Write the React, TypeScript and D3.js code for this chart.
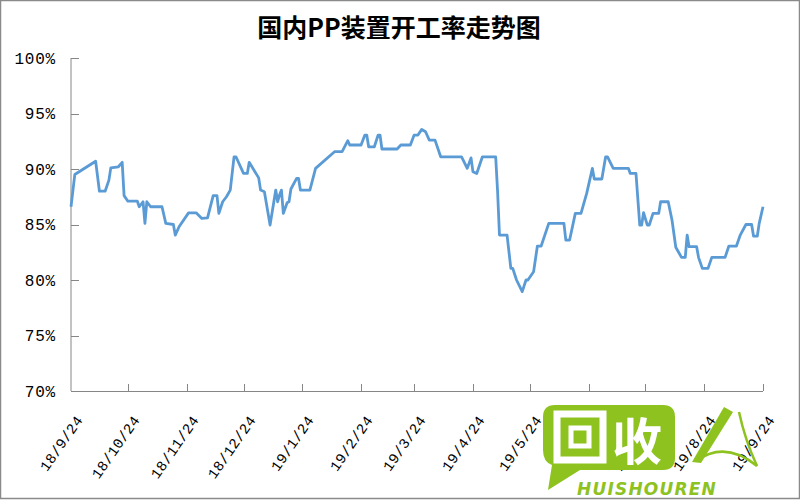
import React from "react";
import * as d3 from "d3";

const title = "国内PP装置开工率走势图";

const dates: string[] = [
  "2018-09-24", "2018-09-26", "2018-10-07", "2018-10-09", "2018-10-12", "2018-10-14", "2018-10-15", "2018-10-19",
  "2018-10-21", "2018-10-22", "2018-10-24", "2018-10-29", "2018-10-30", "2018-11-01", "2018-11-02", "2018-11-03",
  "2018-11-05", "2018-11-11", "2018-11-13", "2018-11-17", "2018-11-18", "2018-11-20", "2018-11-25", "2018-11-29",
  "2018-12-02", "2018-12-05", "2018-12-08", "2018-12-10", "2018-12-11", "2018-12-13", "2018-12-15", "2018-12-17",
  "2018-12-19", "2018-12-20", "2018-12-24", "2018-12-26", "2018-12-27", "2019-01-01", "2019-01-02", "2019-01-04",
  "2019-01-07", "2019-01-10", "2019-01-11", "2019-01-12", "2019-01-13", "2019-01-14", "2019-01-16", "2019-01-17",
  "2019-01-18", "2019-01-21", "2019-01-22", "2019-01-23", "2019-01-28", "2019-01-31", "2019-02-10", "2019-02-14",
  "2019-02-17", "2019-02-18", "2019-02-24", "2019-02-26", "2019-02-27", "2019-02-28", "2019-03-03", "2019-03-05",
  "2019-03-06", "2019-03-07", "2019-03-15", "2019-03-17", "2019-03-22", "2019-03-24", "2019-03-26", "2019-03-28",
  "2019-03-30", "2019-04-01", "2019-04-04", "2019-04-07", "2019-04-18", "2019-04-21", "2019-04-23", "2019-04-24",
  "2019-04-26", "2019-04-29", "2019-05-06", "2019-05-07", "2019-05-08", "2019-05-12", "2019-05-14", "2019-05-15",
  "2019-05-17", "2019-05-20", "2019-05-22", "2019-05-23", "2019-05-26", "2019-05-28", "2019-05-30", "2019-06-03",
  "2019-06-11", "2019-06-12", "2019-06-14", "2019-06-17", "2019-06-20", "2019-06-23", "2019-06-26", "2019-06-27",
  "2019-07-01", "2019-07-03", "2019-07-04", "2019-07-07", "2019-07-15", "2019-07-16", "2019-07-19", "2019-07-21",
  "2019-07-22", "2019-07-23", "2019-07-25", "2019-07-26", "2019-07-28", "2019-07-31", "2019-08-01", "2019-08-05",
  "2019-08-07", "2019-08-09", "2019-08-12", "2019-08-14", "2019-08-15", "2019-08-16", "2019-08-20", "2019-08-21",
  "2019-08-23", "2019-08-26", "2019-08-28", "2019-09-04", "2019-09-06", "2019-09-10", "2019-09-12", "2019-09-15",
  "2019-09-18", "2019-09-19", "2019-09-21", "2019-09-22", "2019-09-24",
];

const rates: number[] = [
  86.6, 89.5, 90.7, 88.0, 88.0, 89.0, 90.1, 90.2,
  90.6, 87.6, 87.1, 87.1, 86.6, 87.05, 85.1, 87.05,
  86.6, 86.6, 85.1, 85.0, 84.05, 84.8, 86.05, 86.05,
  85.55, 85.6, 87.6, 87.6, 86.0, 87.05, 87.5, 88.1,
  91.1, 91.1, 89.6, 89.6, 90.6, 89.2, 88.1, 87.95,
  84.95, 88.1, 87.05, 87.66, 88.1, 86.0, 86.96, 87.05,
  88.2, 89.16, 89.16, 88.1, 88.1, 90.06, 91.56, 91.56,
  92.55, 92.16, 92.16, 93.06, 93.06, 92.0, 92.0, 93.06,
  93.06, 91.8, 91.8, 92.16, 92.16, 93.06, 93.06, 93.57,
  93.36, 92.6, 92.6, 91.1, 91.1, 90.06, 91.0, 89.76,
  89.6, 91.1, 91.1, 88.0, 84.05, 84.05, 81.05, 81.05,
  80.0, 78.95, 80.0, 80.0, 80.75, 83.06, 83.06, 85.1,
  85.1, 83.6, 83.6, 86.0, 86.0, 87.8, 90.06, 89.1,
  89.1, 91.1, 91.1, 90.06, 90.06, 89.6, 89.6, 84.95,
  84.95, 86.06, 84.95, 84.95, 86.0, 86.0, 87.05, 87.05,
  85.4, 82.95, 82.04, 82.04, 84.05, 83.0, 83.0, 82.04,
  81.05, 81.05, 82.04, 82.04, 83.06, 83.06, 84.05, 85.0,
  85.0, 83.96, 83.96, 85.1, 86.6,
];

const xTickDates: string[] = [
  "2018-09-24", "2018-10-24", "2018-11-24", "2018-12-24", "2019-01-24", "2019-02-24", "2019-03-24",
  "2019-04-24", "2019-05-24", "2019-06-24", "2019-07-24", "2019-08-24", "2019-09-24",
];
const xTickLabels: string[] = [
  "18/9/24", "18/10/24", "18/11/24", "18/12/24", "19/1/24", "19/2/24", "19/3/24",
  "19/4/24", "19/5/24", "19/6/24", "19/7/24", "19/8/24", "19/9/24",
];
const yTicks: number[] = [70, 75, 80, 85, 90, 95, 100];

const parse = d3.timeParse("%Y-%m-%d");

export default function App() {
  const left = 71, right = 763, top = 58, bottom = 391;
  const x = d3.scaleTime().domain([parse("2018-09-24")!, parse("2019-09-24")!]).range([left, right]);
  const y = d3.scaleLinear().domain([70, 100]).range([bottom, top]);
  const pts = dates.map((d, i) => ({ d: parse(d)!, v: rates[i] }));
  const line = d3.line<{ d: Date; v: number }>().x((p) => x(p.d)).y((p) => y(p.v));
  const axisColor = "#868686";
  const green = "#8DC21F";

  return (
    <div style={{ position: "absolute", left: 0, top: 0 }}>
      <svg width={800} height={500} style={{ display: "block", background: "#fff" }}>
        <rect x={0.5} y={0.5} width={799} height={498} fill="#fff" stroke="#8a8a8a" strokeWidth={1.5} />
        <text x={399} y={37} textAnchor="middle" fontFamily="'Noto Sans CJK SC', sans-serif" fontWeight="bold" fontSize={25} fill="#000">
          {title}
        </text>
        {/* y axis */}
        <line x1={left} x2={left} y1={top} y2={bottom} stroke={axisColor} />
        {yTicks.map((t) => (
          <g key={t}>
            <line x1={left} x2={left + 8} y1={Math.round(y(t)) + 0.5} y2={Math.round(y(t)) + 0.5} stroke={axisColor} />
            <text x={56} y={y(t)} dy="0.36em" textAnchor="end" fontFamily="'Liberation Mono', monospace" fontSize={16} letterSpacing={0.8} fill="#000">
              {t + "%"}
            </text>
          </g>
        ))}
        {/* x axis */}
        <line x1={left} x2={right} y1={bottom + 0.5} y2={bottom + 0.5} stroke={axisColor} />
        {xTickDates.map((d, i) => {
          const xp = Math.round(x(parse(d)!)) + 0.5;
          return (
            <g key={d}>
              {i > 0 && <line x1={xp} x2={xp} y1={bottom - 7} y2={bottom} stroke={axisColor} />}
              <text
                transform={`translate(${xp + 12},${420}) rotate(-55)`}
                textAnchor="end"
                fontFamily="'Liberation Mono', monospace"
                fontSize={14.5}
                letterSpacing={0.4}
                fill="#000"
              >
                {xTickLabels[i]}
              </text>
            </g>
          );
        })}
        {/* data line */}
        <path d={line(pts) || ""} fill="none" stroke="#5B9BD5" strokeWidth={2.8} strokeLinejoin="round" />
        {/* watermark */}
        <g>
          <path d="M555,405 H663 Q675,405 675,417 V458 Q675,470 663,470 H580 L548,490 L552,465 Q543,462 543,450 V417 Q543,405 555,405 Z" fill={green} />
          <rect x={557} y={414} width={46} height={46} fill="none" stroke="#fff" strokeWidth={7} />
          <rect x={571} y={428} width={18} height={18} fill="none" stroke="#fff" strokeWidth={5} />
          <text x={637} y={460} textAnchor="middle" fontFamily="'Noto Sans CJK SC', sans-serif" fontWeight="bold" fontSize={50} fill="#fff">收</text>
          <text x={577} y={495} fontFamily="'DejaVu Sans', sans-serif" fontWeight="bold" fontStyle="italic" fontSize={17} letterSpacing={1.2} fill={green}>HUISHOUREN</text>
          <path d="M724,407 L733,412 L701,463 L692,462 Z" fill={green} />
          <path d="M696,461 Q725,440 757,466" fill="none" stroke={green} strokeWidth={2.5} />
          <path d="M739,412 Q745,440 757,466" fill="none" stroke={green} strokeWidth={2.5} />
        </g>
      </svg>
    </div>
  );
}
